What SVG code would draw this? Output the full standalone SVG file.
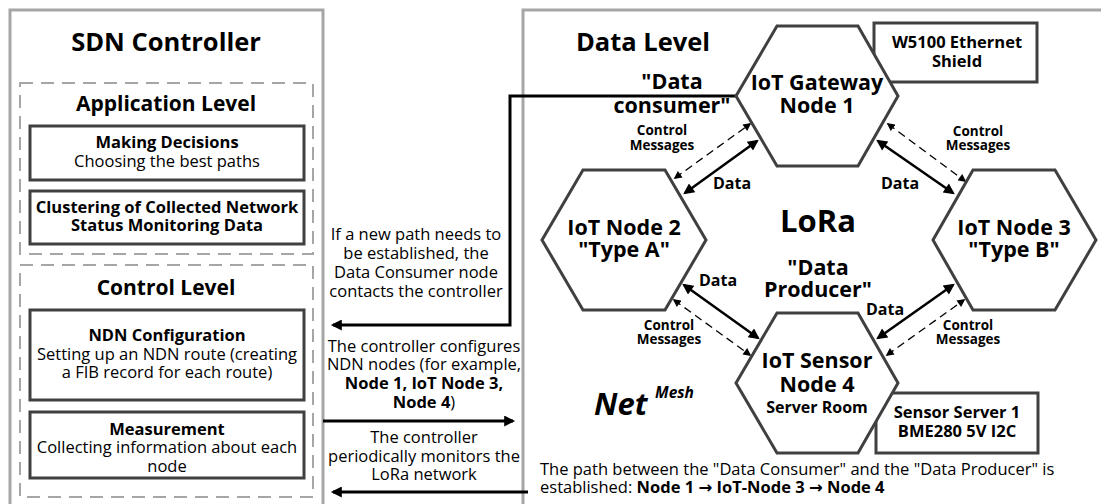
<svg xmlns="http://www.w3.org/2000/svg" width="1101" height="504" viewBox="0 0 1101 504">
<style>
text{font-family:"Open Sans","DejaVu Sans",sans-serif;fill:#000;text-anchor:middle}
.s{text-anchor:start}
.b{font-weight:bold}
.i{font-style:italic}
.panel{fill:none;stroke:#a6a6a6;stroke-width:3}
.lvl{fill:none;stroke:#a6a6a6;stroke-width:2;stroke-dasharray:13 8}
.box{fill:#fff;stroke:#404040;stroke-width:3}
.hex{fill:#fff;stroke:#404040;stroke-width:3}
.t16{font-size:16.5px}
.t21{font-size:21.5px}
.cm{font-size:13.5px;font-weight:bold}
.dl{font-size:16px;font-weight:bold}
.thick{fill:none;stroke:#000;stroke-width:3}
.data{stroke:#000;stroke-width:2.5;marker-start:url(#ah);marker-end:url(#ah)}
.ctrl{stroke:#000;stroke-width:1.3;stroke-dasharray:8 5;marker-start:url(#as);marker-end:url(#as)}
</style>
<defs>
<marker id="ah" viewBox="0 0 10 10" refX="8" refY="5" markerWidth="13" markerHeight="11" markerUnits="userSpaceOnUse" orient="auto-start-reverse"><path d="M0,0 L10,5 L0,10 z" fill="#000"/></marker>
<marker id="as" viewBox="0 0 10 10" refX="8" refY="5" markerWidth="9" markerHeight="8" markerUnits="userSpaceOnUse" orient="auto-start-reverse"><path d="M0,0 L10,5 L0,10 z" fill="#000"/></marker>
<marker id="ab" viewBox="0 0 10 10" refX="8" refY="5" markerWidth="14" markerHeight="11" markerUnits="userSpaceOnUse" orient="auto"><path d="M0,0 L10,5 L0,10 z" fill="#000"/></marker>
</defs>
<rect width="1101" height="504" fill="#fff"/>

<g id="sdn-controller">
<rect class="panel" x="10" y="10" width="313" height="520"/>
<text class="b" x="166" y="51" font-size="25.5px">SDN Controller</text>
</g>

<g id="application-level">
<rect class="lvl" x="20" y="83" width="293" height="171"/>
<text class="b" x="166" y="111" font-size="21px">Application Level</text>
</g>
<g id="making-decisions">
<rect class="box" x="30" y="126" width="274" height="54"/>
<text class="t16 b" x="167" y="148">Making Decisions</text>
<text class="t16" x="167" y="167">Choosing the best paths</text>
</g>
<g id="clustering">
<rect class="box" x="30" y="191" width="274" height="53"/>
<text class="t16 b" x="167" y="213">Clustering of Collected Network</text>
<text class="t16 b" x="167" y="231">Status Monitoring Data</text>
</g>

<g id="control-level">
<rect class="lvl" x="20" y="265" width="293" height="232"/>
<text class="b" x="166" y="295" font-size="21px">Control Level</text>
</g>
<g id="ndn-configuration">
<rect class="box" x="30" y="310" width="274" height="90"/>
<text class="t16 b" x="167" y="341">NDN Configuration</text>
<text class="t16" x="167" y="360">Setting up an NDN route (creating</text>
<text class="t16" x="167" y="378">a FIB record for each route)</text>
</g>
<g id="measurement">
<rect class="box" x="30" y="412" width="274" height="66"/>
<text class="t16 b" x="167" y="435">Measurement</text>
<text class="t16" x="167" y="453">Collecting information about each</text>
<text class="t16" x="167" y="472">node</text>
</g>

<g id="data-level">
<rect class="panel" x="523" y="10" width="620" height="520"/>
<text class="b" x="643" y="51" font-size="25.5px">Data Level</text>
<text class="b t21" x="672" y="89">"Data</text>
<text class="b t21" x="672" y="113">consumer"</text>
<text class="b" x="818" y="232" font-size="31px">LoRa</text>
<text class="b t21" x="818" y="275">"Data</text>
<text class="b t21" x="818" y="297">Producer"</text>
<text class="b i s" x="594" y="415" font-size="31px">Net</text>
<text class="b i s" x="655" y="398" font-size="15.5px">Mesh</text>
<text class="t16 s" x="540" y="475">The path between the "Data Consumer" and the "Data Producer" is</text>
<text class="t16 s" x="540" y="493">established: <tspan class="b">Node 1 → IoT-Node 3 → Node 4</tspan></text>
</g>

<g id="connectors">
<polyline class="thick" points="737,96 510,96 510,325 333,325" marker-end="url(#ab)"/>
<line class="thick" x1="323" y1="421" x2="513" y2="421" marker-end="url(#ab)"/>
<line class="thick" x1="528" y1="492" x2="333" y2="492" marker-end="url(#ab)"/>
<line class="data" x1="685" y1="193" x2="757" y2="141"/>
<line class="ctrl" x1="675" y1="178" x2="750" y2="124"/>
<line class="data" x1="878" y1="141" x2="953" y2="193"/>
<line class="ctrl" x1="888" y1="124" x2="965" y2="181"/>
<line class="data" x1="684" y1="285" x2="758" y2="338"/>
<line class="ctrl" x1="674" y1="300" x2="750" y2="355"/>
<line class="data" x1="878" y1="338" x2="953" y2="285"/>
<line class="ctrl" x1="887" y1="355" x2="964" y2="300"/>
</g>

<g id="connector-labels">
<text class="t16" x="416" y="240">If a new path needs to</text>
<text class="t16" x="416" y="259">be established, the</text>
<text class="t16" x="416" y="278">Data Consumer node</text>
<text class="t16" x="416" y="297">contacts the controller</text>
<text class="t16" x="424" y="352">The controller configures</text>
<text class="t16" x="424" y="370">NDN nodes (for example,</text>
<text class="t16 b" x="424" y="389">Node 1, IoT Node 3,</text>
<text class="t16" x="424" y="408"><tspan class="b">Node 4</tspan>)</text>
<text class="t16" x="424" y="443">The controller</text>
<text class="t16" x="424" y="462">periodically monitors the</text>
<text class="t16" x="424" y="480">LoRa network</text>
<text class="cm" x="662" y="135">Control</text>
<text class="cm" x="662" y="150">Messages</text>
<text class="dl" x="732" y="189">Data</text>
<text class="cm" x="978" y="136">Control</text>
<text class="cm" x="978" y="150">Messages</text>
<text class="dl" x="900" y="189">Data</text>
<text class="dl" x="718" y="286">Data</text>
<text class="cm" x="669" y="330">Control</text>
<text class="cm" x="669" y="344">Messages</text>
<text class="dl" x="885" y="315">Data</text>
<text class="cm" x="968" y="330">Control</text>
<text class="cm" x="968" y="344">Messages</text>
</g>

<g id="w5100">
<rect class="box" x="874" y="23" width="163" height="59"/>
<text class="b" x="957" y="48" font-size="16.5px">W5100 Ethernet</text>
<text class="b" x="957" y="67" font-size="16.5px">Shield</text>
</g>
<g id="sensor-server">
<rect class="box" x="876" y="393" width="162" height="60"/>
<text class="t16 b" x="957" y="418">Sensor Server 1</text>
<text class="t16 b" x="957" y="437">BME280 5V I2C</text>
</g>

<g id="node1">
<polygon class="hex" points="736,96 777,26 858,26 898,96 858,166 777,166"/>
<text class="b t21" x="817" y="90">IoT Gateway</text>
<text class="b t21" x="817" y="113">Node 1</text>
</g>
<g id="node2">
<polygon class="hex" points="542,240 583,170 665,170 706,240 665,310 583,310"/>
<text class="b t21" x="624" y="235">IoT Node 2</text>
<text class="b t21" x="624" y="257">"Type A"</text>
</g>
<g id="node3">
<polygon class="hex" points="933,240 973,170 1055,170 1096,240 1055,310 973,310"/>
<text class="b t21" x="1014" y="235">IoT Node 3</text>
<text class="b t21" x="1014" y="257">"Type B"</text>
</g>
<g id="node4">
<polygon class="hex" points="736,383 777,313 858,313 898,383 858,453 777,453"/>
<text class="b t21" x="817" y="368">IoT Sensor</text>
<text class="b t21" x="817" y="392">Node 4</text>
<text class="b" x="817" y="413" font-size="16px">Server Room</text>
</g>
</svg>
